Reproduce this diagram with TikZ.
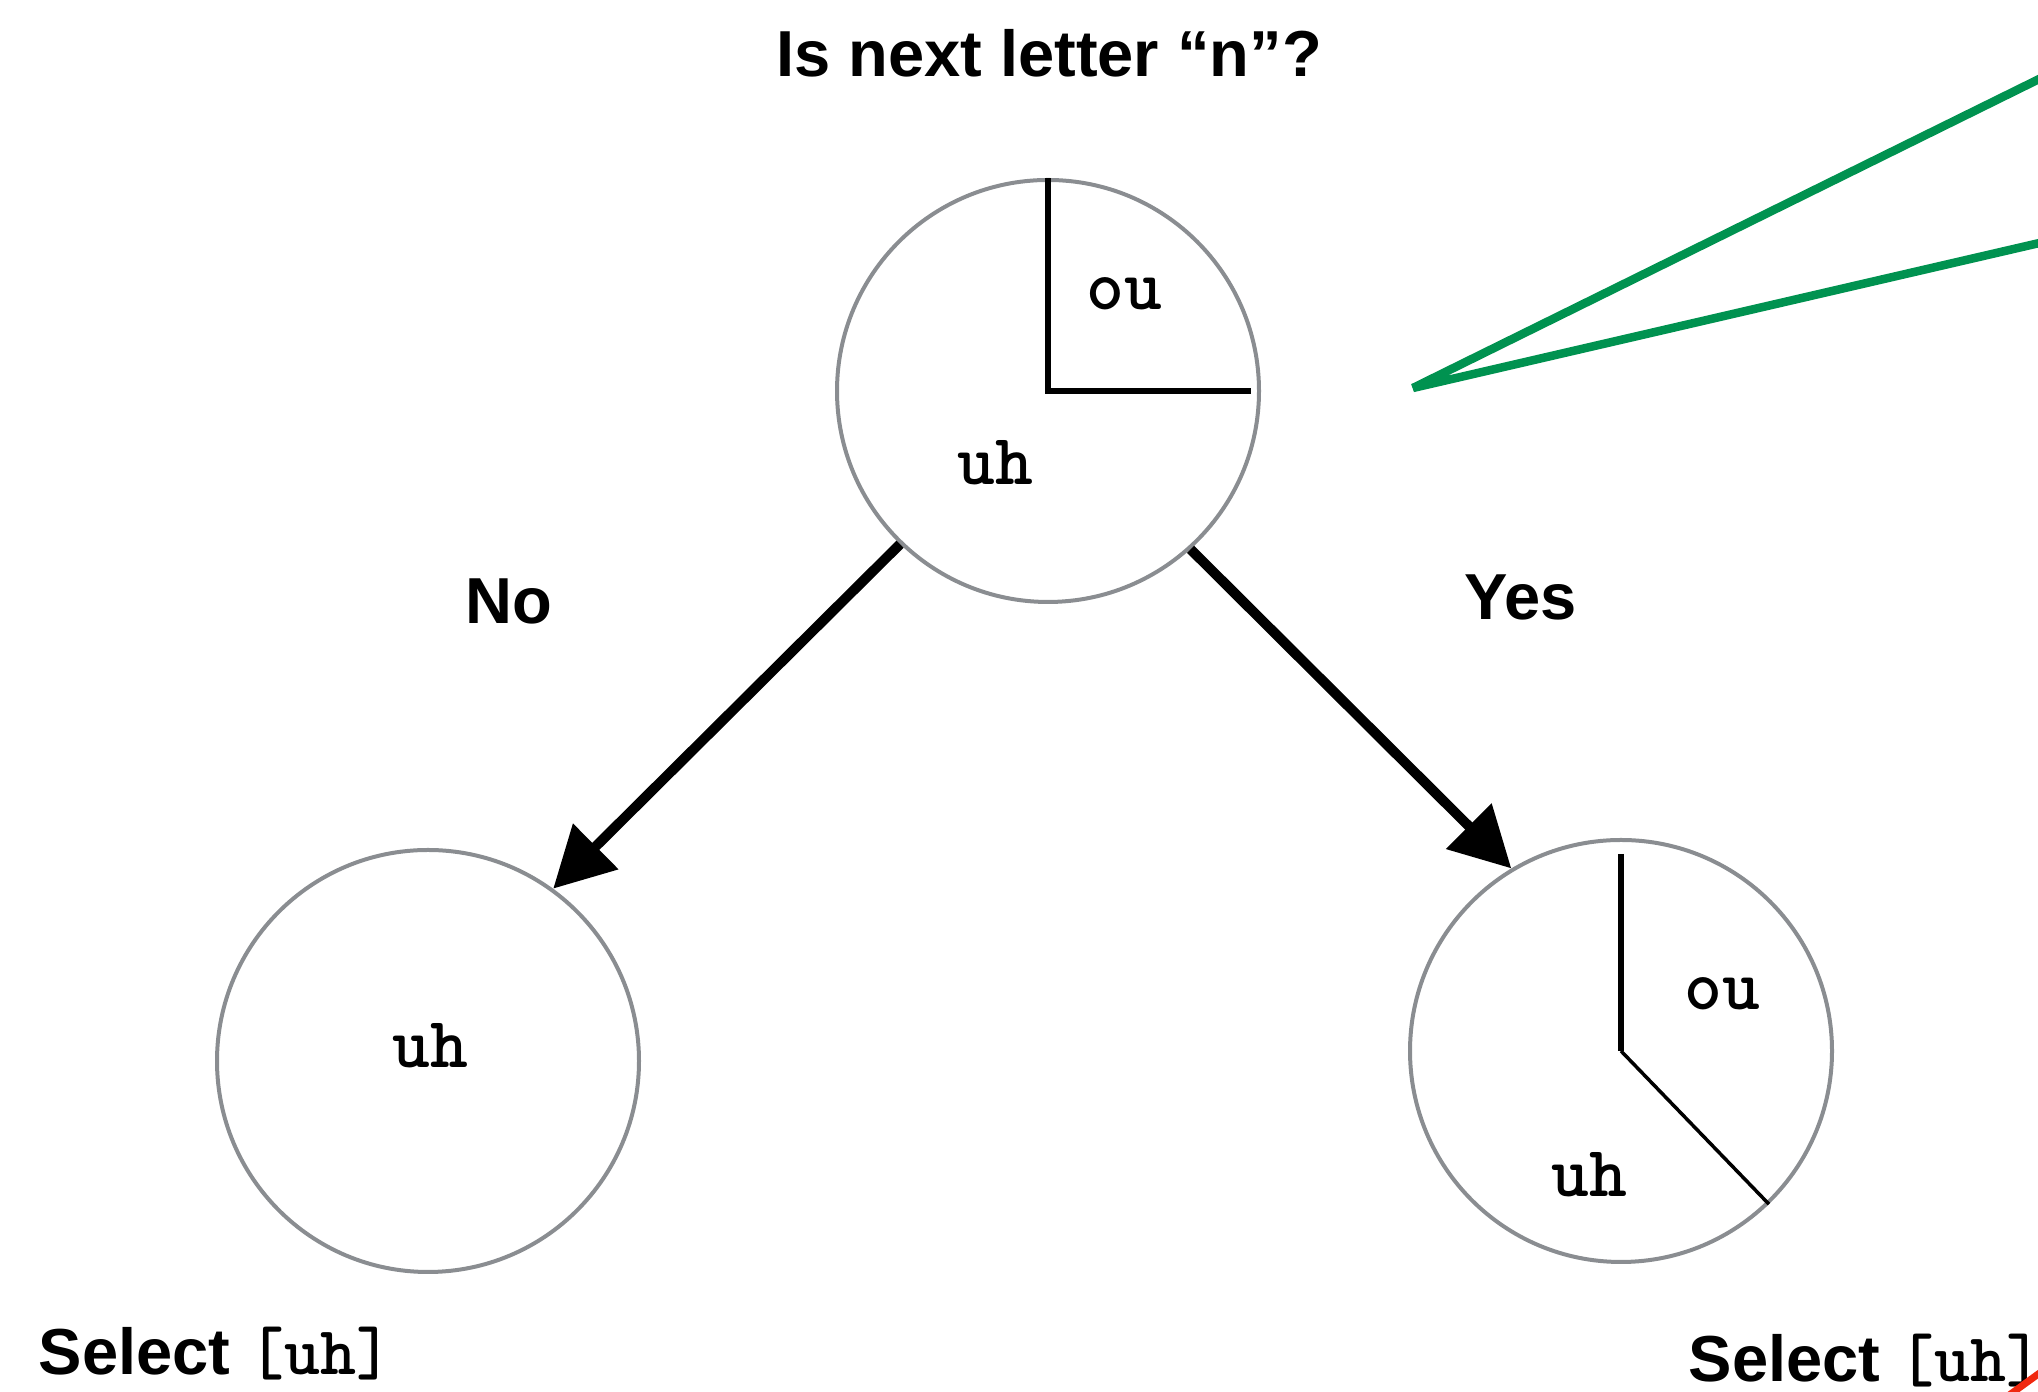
\documentclass[tikz,border=0pt]{standalone}
\usepackage{fontspec}
\setmainfont{Liberation Sans}
\usetikzlibrary{arrows.meta}

\definecolor{pieGray}{RGB}{138,141,145}
\definecolor{calloutGreen}{RGB}{0,146,80}
\definecolor{markRed}{RGB}{240,40,15}

\newcommand{\phn}[1]{{\fontsize{19.5}{24}\selectfont\ttfamily\bfseries #1}}

\tikzstyle{pie} = [circle, draw=pieGray, line width=0.04cm,
minimum size=4.22cm, inner sep=0pt]
\tikzstyle{question} = [font=\fontsize{18.5}{22}\selectfont\bfseries,
inner sep=0pt]
\tikzstyle{phone} = [font=\fontsize{20.5}{24}\selectfont\ttfamily\bfseries,
inner sep=0pt, anchor=base]
\tikzstyle{arrow} = [line width=0.1cm, -{Triangle[length=0.6cm,width=0.62cm]}]
\tikzstyle{cut} = [line width=0.055cm]
\tikzstyle{callout} = [calloutGreen, line width=0.085cm, line join=bevel]

\begin{document}
\begin{tikzpicture}
\useasboundingbox (0,0) rectangle (20.38,13.92);
\clip (0,0) rectangle (20.38,13.92);

\node (title) [question, anchor=base] at (10.49,13.15) {Is next letter “n”?};
\node (root) [pie] at (10.48,10.01) {};
\node (noleaf) [pie] at (4.28,3.31) {};
\node (yesleaf) [pie] at (16.21,3.41) {};

% slices of each pie
\draw [cut] (root.north) -- (root.center) -- ([xshift=-0.1cm]root.east);
\draw [cut] ([yshift=-0.16cm]yesleaf.north) -- (yesleaf.center);
\draw [line width=0.035cm] (yesleaf.center) -- (yesleaf.-46);

\node (rootOu) [phone] at ([shift={(0.76,0.81)}]root.center) {ou};
\node (rootUh) [phone] at ([shift={(-0.53,-0.94)}]root.center) {uh};
\node (noUh) [phone] at ([shift={(0.02,-0.07)}]noleaf.center) {uh};
\node (yesOu) [phone] at ([shift={(1.01,0.41)}]yesleaf.center) {ou};
\node (yesUh) [phone] at ([shift={(-0.32,-1.46)}]yesleaf.center) {uh};

\node (no) [question, anchor=base] at (5.09,7.68) {No};
\node (yes) [question, anchor=base] at (15.21,7.72) {Yes};

\draw [arrow] (root.226) -- (noleaf.54);
\draw [arrow] (root.-48) -- (yesleaf.121);

\node (noSelect) [question, anchor=base west] at (0.38,0.17) {Select \phn{[uh]}};
\node (yesSelect) [question, anchor=base west] at (16.88,0.10) {Select \phn{[uh]}};

% callout wedge and mark running off the edge
\coordinate (calloutTip) at (14.13,10.04);
\coordinate (calloutTop) at (21.0,13.43);
\coordinate (calloutBottom) at (21.0,11.63);
\draw [callout] (calloutTop) -- (calloutTip) -- (calloutBottom);
\coordinate (markA) at (19.90,-0.17);
\coordinate (markB) at (20.70,0.41);
\draw [markRed, line width=0.07cm] (markA) -- (markB);

\end{tikzpicture}
\end{document}
